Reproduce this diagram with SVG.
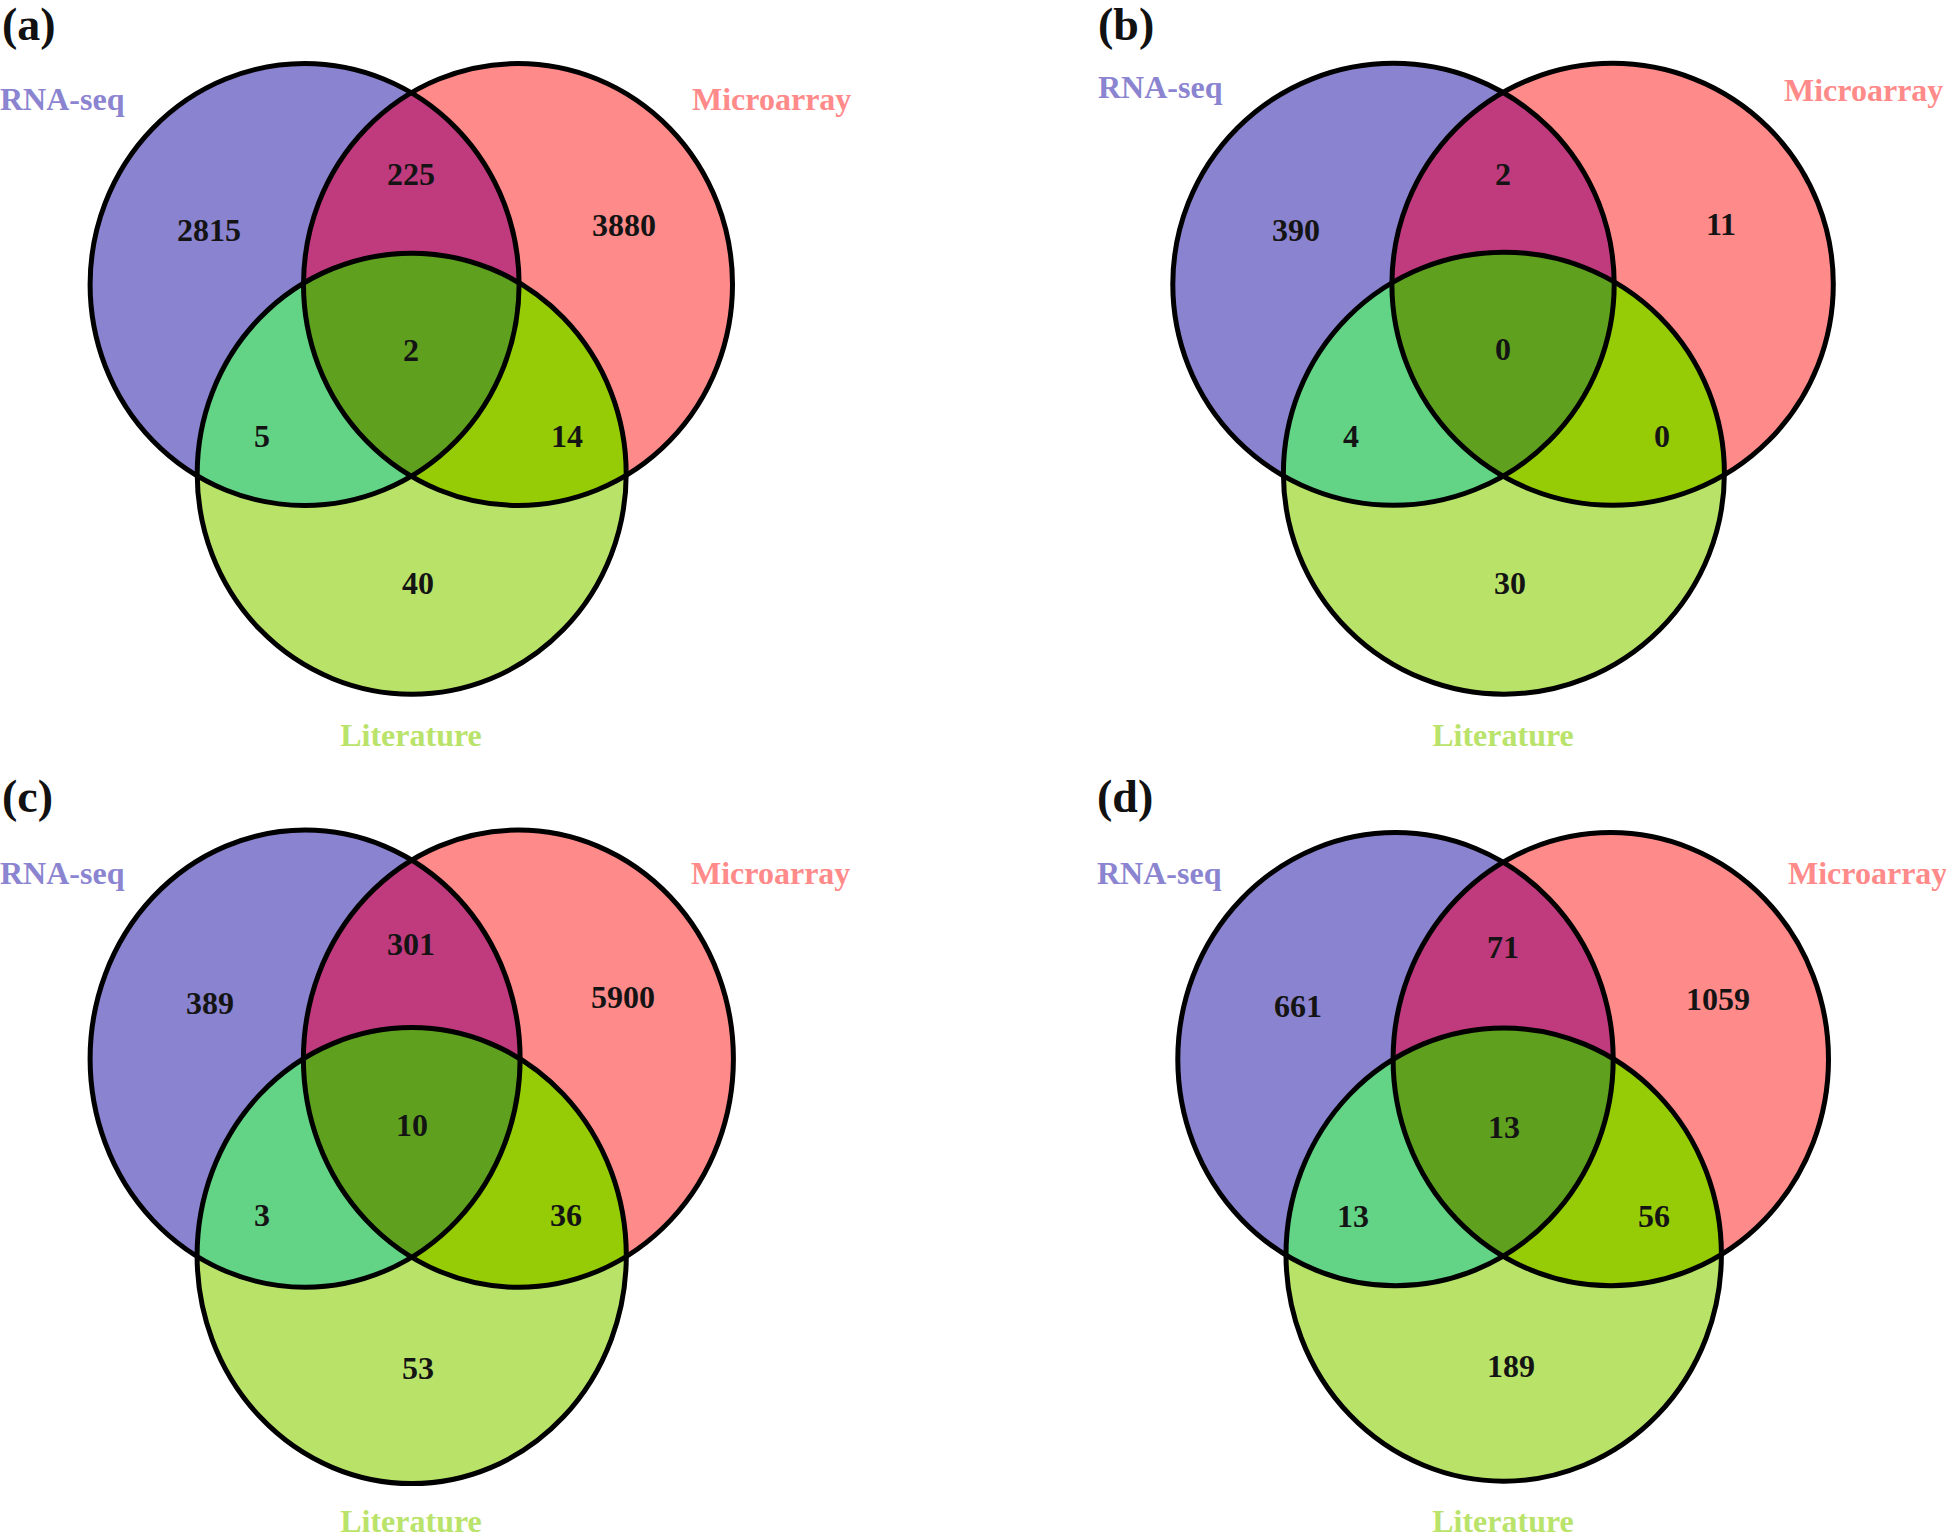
<svg xmlns="http://www.w3.org/2000/svg" width="1946" height="1536" viewBox="0 0 1946 1536">
<style>
  text { font-family: "Liberation Serif", "Times New Roman", serif; font-weight: bold; }
  .tag { font-size: 46px; fill: #111111; }
  .num { font-size: 32px; fill: #141414; text-anchor: middle; }
  .lab { font-size: 32px; }
  .lrna { fill: #8b84d0; }
  .lmic { fill: #ff8a8a; }
  .llit { fill: #b9e36a; text-anchor: middle; }
  .fL { fill: #8a83cf; }
  .fR { fill: #ff8a8a; }
  .fB { fill: #b9e368; }
  .fLR { fill: #c03a7e; }
  .fLB { fill: #63d386; }
  .fRB { fill: #95cc06; }
  .fLRB { fill: #5fa01f; }
  .outline { fill: none; stroke: #000000; stroke-width: 5; }
</style>
<defs>
  <!-- panel a -->
  <ellipse id="aL" cx="304.6" cy="284.5" rx="214.5" ry="221"/>
  <ellipse id="aR" cx="518" cy="284.5" rx="214.5" ry="221"/>
  <ellipse id="aB" cx="411.7" cy="473.7" rx="214.5" ry="220.5"/>
  <clipPath id="caL"><use href="#aL"/></clipPath>
  <clipPath id="caR"><use href="#aR"/></clipPath>
  <!-- panel b -->
  <ellipse id="bL" cx="1393.5" cy="284.3" rx="220.7" ry="221"/>
  <ellipse id="bR" cx="1612.6" cy="284.3" rx="220.7" ry="221"/>
  <ellipse id="bB" cx="1503.9" cy="473.2" rx="220.5" ry="221"/>
  <clipPath id="cbL"><use href="#bL"/></clipPath>
  <clipPath id="cbR"><use href="#bR"/></clipPath>
  <!-- panel c -->
  <ellipse id="cL" cx="305.1" cy="1058.7" rx="215" ry="228.6"/>
  <ellipse id="cR" cx="518.4" cy="1058.7" rx="215" ry="228.6"/>
  <ellipse id="cB" cx="411.7" cy="1255.6" rx="214.6" ry="228"/>
  <clipPath id="ccL"><use href="#cL"/></clipPath>
  <clipPath id="ccR"><use href="#cR"/></clipPath>
  <!-- panel d -->
  <ellipse id="dL" cx="1395.5" cy="1059.2" rx="217.7" ry="226.6"/>
  <ellipse id="dR" cx="1610.8" cy="1059.2" rx="217.7" ry="226.6"/>
  <ellipse id="dB" cx="1503.7" cy="1254.6" rx="217.7" ry="226.6"/>
  <clipPath id="cdL"><use href="#dL"/></clipPath>
  <clipPath id="cdR"><use href="#dR"/></clipPath>
</defs>

<!-- ===== Panel (a) ===== -->
<g id="panel-a">
  <text class="tag" x="2" y="40">(a)</text>
  <g id="a-rnaseq"><use href="#aL" class="fL"/><text class="lab lrna" x="0" y="110">RNA-seq</text></g>
  <g id="a-microarray"><use href="#aR" class="fR"/><text class="lab lmic" x="692" y="110">Microarray</text></g>
  <g id="a-literature"><use href="#aB" class="fB"/><text class="lab llit" x="411" y="746">Literature</text></g>
  <g id="a-overlaps">
    <use href="#aR" class="fLR" clip-path="url(#caL)"/>
    <use href="#aB" class="fLB" clip-path="url(#caL)"/>
    <use href="#aB" class="fRB" clip-path="url(#caR)"/>
    <g clip-path="url(#caL)"><use href="#aB" class="fLRB" clip-path="url(#caR)"/></g>
  </g>
  <g id="a-outlines">
    <use href="#aL" class="outline"/><use href="#aR" class="outline"/><use href="#aB" class="outline"/>
  </g>
  <g id="a-counts">
    <text class="num" x="209" y="241">2815</text>
    <text class="num" x="411" y="185">225</text>
    <text class="num" x="624" y="236">3880</text>
    <text class="num" x="411" y="361">2</text>
    <text class="num" x="262" y="447">5</text>
    <text class="num" x="567" y="447">14</text>
    <text class="num" x="418" y="594">40</text>
  </g>
</g>

<!-- ===== Panel (b) ===== -->
<g id="panel-b">
  <text class="tag" x="1098" y="40">(b)</text>
  <g id="b-rnaseq"><use href="#bL" class="fL"/><text class="lab lrna" x="1098" y="98">RNA-seq</text></g>
  <g id="b-microarray"><use href="#bR" class="fR"/><text class="lab lmic" x="1784" y="101">Microarray</text></g>
  <g id="b-literature"><use href="#bB" class="fB"/><text class="lab llit" x="1503" y="746">Literature</text></g>
  <g id="b-overlaps">
    <use href="#bR" class="fLR" clip-path="url(#cbL)"/>
    <use href="#bB" class="fLB" clip-path="url(#cbL)"/>
    <use href="#bB" class="fRB" clip-path="url(#cbR)"/>
    <g clip-path="url(#cbL)"><use href="#bB" class="fLRB" clip-path="url(#cbR)"/></g>
  </g>
  <g id="b-outlines">
    <use href="#bL" class="outline"/><use href="#bR" class="outline"/><use href="#bB" class="outline"/>
  </g>
  <g id="b-counts">
    <text class="num" x="1296" y="241">390</text>
    <text class="num" x="1503" y="185">2</text>
    <text class="num" x="1721" y="235">11</text>
    <text class="num" x="1503" y="360">0</text>
    <text class="num" x="1351" y="447">4</text>
    <text class="num" x="1662" y="447">0</text>
    <text class="num" x="1510" y="594">30</text>
  </g>
</g>

<!-- ===== Panel (c) ===== -->
<g id="panel-c">
  <text class="tag" x="2" y="812">(c)</text>
  <g id="c-rnaseq"><use href="#cL" class="fL"/><text class="lab lrna" x="0" y="884">RNA-seq</text></g>
  <g id="c-microarray"><use href="#cR" class="fR"/><text class="lab lmic" x="691" y="884">Microarray</text></g>
  <g id="c-literature"><use href="#cB" class="fB"/><text class="lab llit" x="411" y="1532">Literature</text></g>
  <g id="c-overlaps">
    <use href="#cR" class="fLR" clip-path="url(#ccL)"/>
    <use href="#cB" class="fLB" clip-path="url(#ccL)"/>
    <use href="#cB" class="fRB" clip-path="url(#ccR)"/>
    <g clip-path="url(#ccL)"><use href="#cB" class="fLRB" clip-path="url(#ccR)"/></g>
  </g>
  <g id="c-outlines">
    <use href="#cL" class="outline"/><use href="#cR" class="outline"/><use href="#cB" class="outline"/>
  </g>
  <g id="c-counts">
    <text class="num" x="210" y="1014">389</text>
    <text class="num" x="411" y="955">301</text>
    <text class="num" x="623" y="1008">5900</text>
    <text class="num" x="412" y="1136">10</text>
    <text class="num" x="262" y="1226">3</text>
    <text class="num" x="566" y="1226">36</text>
    <text class="num" x="418" y="1379">53</text>
  </g>
</g>

<!-- ===== Panel (d) ===== -->
<g id="panel-d">
  <text class="tag" x="1097" y="812">(d)</text>
  <g id="d-rnaseq"><use href="#dL" class="fL"/><text class="lab lrna" x="1097" y="884">RNA-seq</text></g>
  <g id="d-microarray"><use href="#dR" class="fR"/><text class="lab lmic" x="1788" y="884">Microarray</text></g>
  <g id="d-literature"><use href="#dB" class="fB"/><text class="lab llit" x="1503" y="1532">Literature</text></g>
  <g id="d-overlaps">
    <use href="#dR" class="fLR" clip-path="url(#cdL)"/>
    <use href="#dB" class="fLB" clip-path="url(#cdL)"/>
    <use href="#dB" class="fRB" clip-path="url(#cdR)"/>
    <g clip-path="url(#cdL)"><use href="#dB" class="fLRB" clip-path="url(#cdR)"/></g>
  </g>
  <g id="d-outlines">
    <use href="#dL" class="outline"/><use href="#dR" class="outline"/><use href="#dB" class="outline"/>
  </g>
  <g id="d-counts">
    <text class="num" x="1298" y="1017">661</text>
    <text class="num" x="1503" y="958">71</text>
    <text class="num" x="1718" y="1010">1059</text>
    <text class="num" x="1504" y="1138">13</text>
    <text class="num" x="1353" y="1227">13</text>
    <text class="num" x="1654" y="1227">56</text>
    <text class="num" x="1511" y="1377">189</text>
  </g>
</g>

<g id="connectors"></g>
</svg>
